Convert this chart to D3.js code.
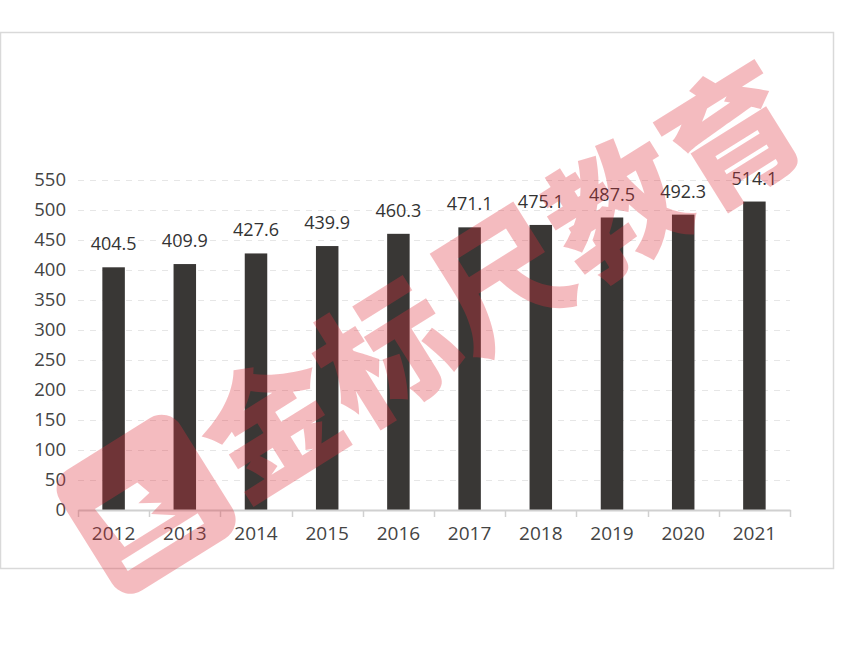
<!DOCTYPE html>
<html><head><meta charset="utf-8">
<script src="https://cdn.jsdelivr.net/npm/d3@7"></script>
<style>body{margin:0;background:#fff}svg{display:block}</style>
</head><body><svg id="c" width="863" height="646"></svg>
<script>
const categories = ["2012","2013","2014","2015","2016","2017","2018","2019","2020","2021"];
const values = [404.5,409.9,427.6,439.9,460.3,471.1,475.1,487.5,492.3,514.1];
const yTicks = [0,50,100,150,200,250,300,350,400,450,500,550];
const watermark = "金标尺教育";

const svg = d3.select("#c");
const font = "'Open Sans','Noto Sans',sans-serif";
svg.append("rect").attr("x",0.5).attr("y",32.5).attr("width",833).attr("height",536)
  .attr("fill","#fff").attr("stroke","#d9d9d9").attr("stroke-width",1.5);

const x = d3.scaleBand().domain(categories).range([78,790]);
const y = d3.scaleLinear().domain([0,550]).range([510,180]);

// grid
svg.append("g").selectAll("line").data(yTicks.filter(d=>d>0)).join("line")
  .attr("x1",78).attr("x2",790).attr("y1",d=>Math.round(y(d))+0.5).attr("y2",d=>Math.round(y(d))+0.5)
  .attr("stroke","#e6e6e6").attr("stroke-dasharray","6,6");

// y axis labels
const ya = svg.append("g").attr("transform","translate(78,0)")
  .call(d3.axisLeft(y).tickValues(yTicks).tickSize(0).tickPadding(12));
ya.select(".domain").remove();
ya.selectAll("text").attr("font-family",font).attr("font-size",18.5).attr("fill","#444");

// bars
const bw = 22.5;
svg.append("g").selectAll("rect").data(values).join("rect")
  .attr("x",(d,i)=>x(categories[i])+x.bandwidth()/2-bw/2)
  .attr("width",bw)
  .attr("y",d=>y(d)).attr("height",d=>y(0)-y(d))
  .attr("fill","#393735");

// value labels
svg.append("g").selectAll("text").data(values).join("text")
  .attr("x",(d,i)=>x(categories[i])+x.bandwidth()/2)
  .attr("y",d=>y(d)-17)
  .attr("text-anchor","middle").attr("font-family",font).attr("font-size",18).attr("fill","#333")
  .text(d=>d.toFixed(1));

// x axis
const xa = svg.append("g").attr("transform","translate(0,510)")
  .call(d3.axisBottom(x).tickSize(0).tickPadding(17));
xa.select(".domain").attr("stroke","#d0d0d0").attr("stroke-width",2);
xa.selectAll("text").attr("font-family",font).attr("font-size",19).attr("fill","#444");
svg.append("g").selectAll("line").data(d3.range(categories.length+1)).join("line")
  .attr("x1",i=>Math.round(78+i*x.step())+0.5).attr("x2",i=>Math.round(78+i*x.step())+0.5)
  .attr("y1",510).attr("y2",517).attr("stroke","#d0d0d0").attr("stroke-width",1.5);

// watermark
const defs = svg.append("defs");
const m = defs.append("mask").attr("id","iconmask").attr("maskUnits","userSpaceOnUse")
  .attr("x",-500).attr("y",-200).attr("width",1000).attr("height",400);
m.append("rect").attr("x",-500).attr("y",-200).attr("width",1000).attr("height",400).attr("fill","#fff");
m.append("path").attr("d","M-385,-20 L-335,-20 L-330,-5 L-345,-2 L-325,10 L-340,14 L-320,28 L-380,28 Z").attr("fill","#000");
m.append("path").attr("d","M-390,38 L-300,38 L-300,50 L-390,50 Z").attr("fill","#000");
const wm = svg.append("g").attr("transform","translate(432,322) rotate(-32)").attr("opacity",0.32);
wm.append("rect").attr("x",-410).attr("y",-68).attr("width",142).attr("height",142).attr("rx",22)
  .attr("fill","#e0303c").attr("mask","url(#iconmask)");
wm.append("text").attr("x",-258).attr("y",52).attr("font-family","'Noto Sans CJK SC',sans-serif")
  .attr("font-weight",900).attr("font-size",134).attr("fill","#e0303c").attr("letter-spacing",2)
  .text(watermark);
</script></body></html>
